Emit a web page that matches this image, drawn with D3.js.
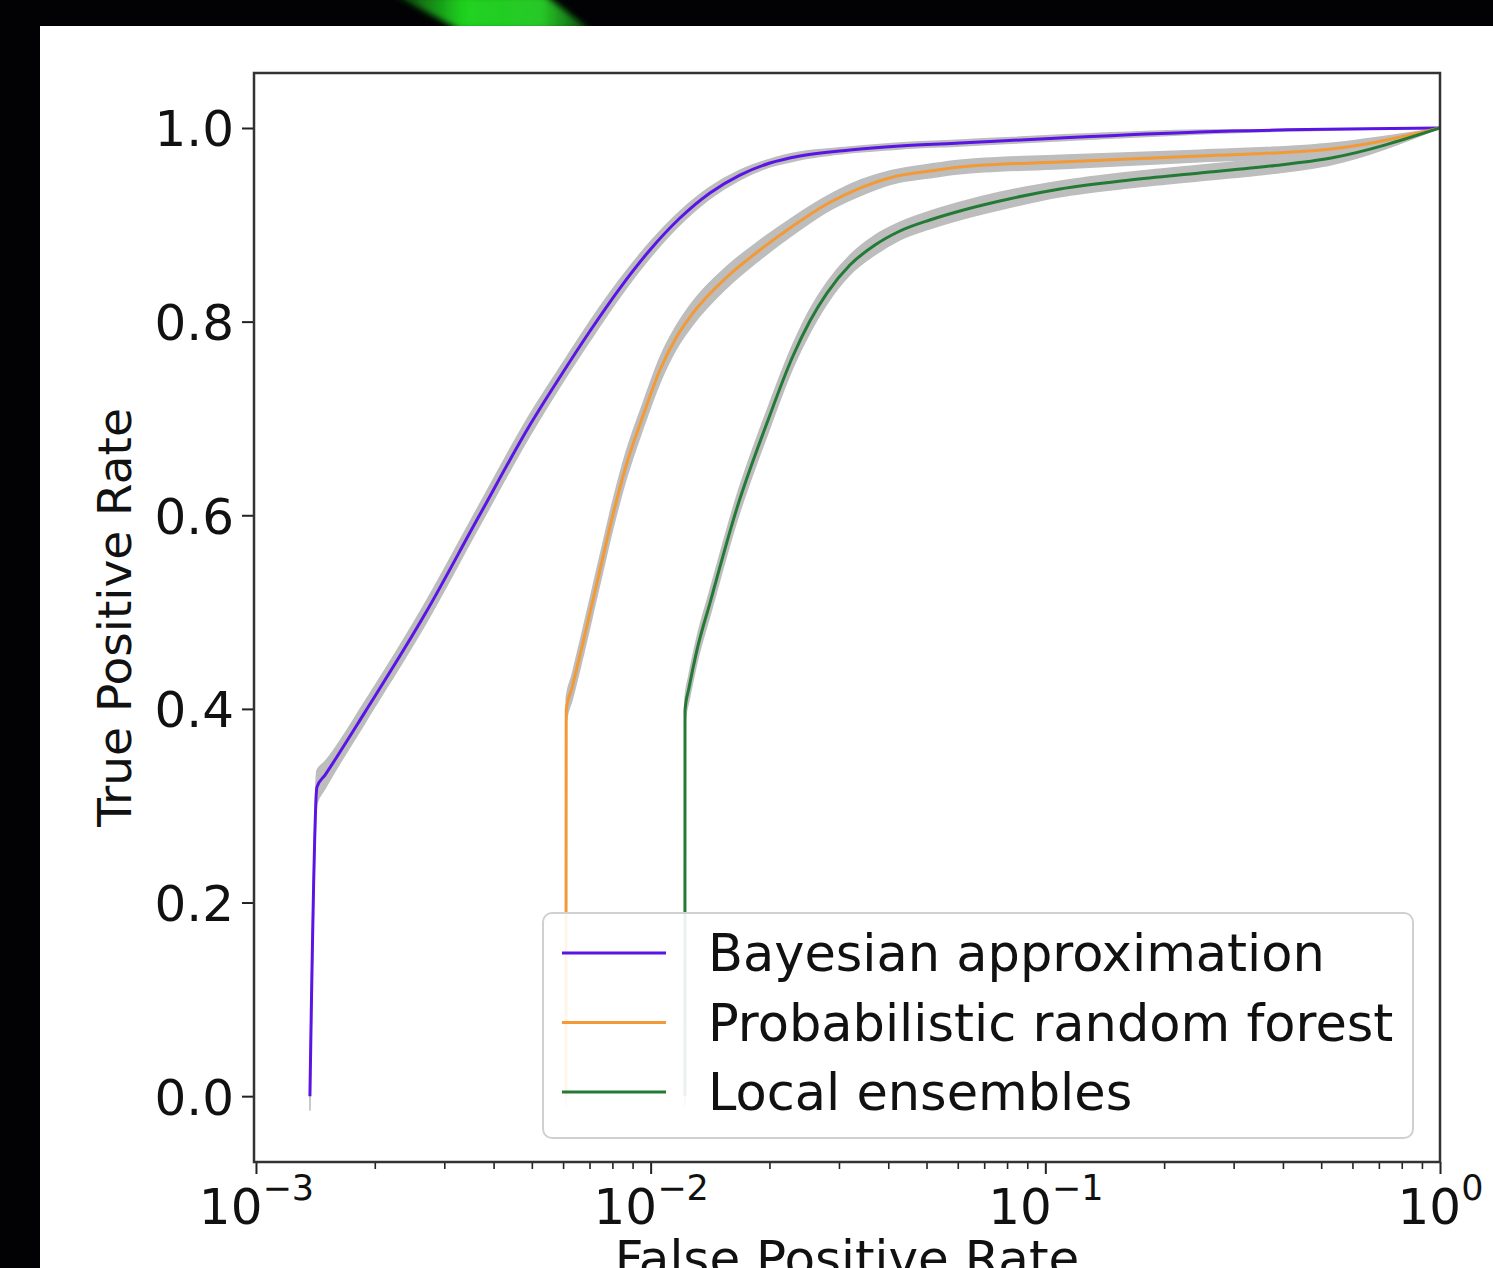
<!DOCTYPE html>
<html><head><meta charset="utf-8">
<script src="https://cdn.jsdelivr.net/npm/d3@7"></script>
<style>html,body{margin:0;padding:0;background:#000;overflow:hidden} svg{display:block}</style>
</head><body>
<svg id="c" width="1493" height="1268"></svg>
<script>
// ---------------- data ----------------
const seriesNames = ["Bayesian approximation", "Probabilistic random forest", "Local ensembles"];
const seriesColors = ["#5a14e6", "#f39a36", "#237a35"];

const bayesFpr = [0.001370, 0.001427, 0.001496, 0.001889, 0.002681, 0.003651, 0.004944, 0.005892, 0.007020, 0.008363, 0.009959, 0.011865, 0.014133, 0.016835, 0.020057, 0.023891, 0.031979, 0.042823, 0.060760, 0.1089, 0.2464, 1.0];
const bayesTpr = [0.0, 0.3192, 0.3316, 0.3967, 0.4979, 0.5971, 0.6932, 0.7428, 0.7903, 0.8347, 0.8740, 0.9070, 0.9329, 0.9514, 0.9638, 0.9711, 0.9773, 0.9814, 0.9845, 0.9897, 0.9959, 1.0];
const bayesStd = [0.015, 0.017, 0.014, 0.011, 0.011, 0.011, 0.011, 0.010, 0.010, 0.009, 0.008, 0.007, 0.006, 0.005, 0.004, 0.004, 0.003, 0.003, 0.003, 0.003, 0.002, 0.0];

const rfFpr = [0.006100, 0.006110, 0.006317, 0.007439, 0.008020, 0.008659, 0.009561, 0.010558, 0.011591, 0.012800, 0.015608, 0.018917, 0.022937, 0.027970, 0.033912, 0.041110, 0.050992, 0.060760, 0.1089, 0.2464, 0.53, 1.0];
const rfTpr = [0.0, 0.3988, 0.4215, 0.5434, 0.6002, 0.6508, 0.7025, 0.7500, 0.7831, 0.8089, 0.8461, 0.8740, 0.8988, 0.9215, 0.9380, 0.9494, 0.9556, 0.9597, 0.9649, 0.9711, 0.9783, 1.0];
const rfStd = [0.010, 0.012, 0.013, 0.014, 0.014, 0.014, 0.013, 0.013, 0.012, 0.012, 0.011, 0.010, 0.009, 0.008, 0.008, 0.007, 0.007, 0.007, 0.007, 0.006, 0.006, 0.0];

const leFpr = [0.012210, 0.012220, 0.012505, 0.013101, 0.014133, 0.016544, 0.019709, 0.022937, 0.025326, 0.027970, 0.031979, 0.037016, 0.042823, 0.050992, 0.060760, 0.076697, 0.1089, 0.16377, 0.2464, 0.37067, 0.53, 1.0];
const leTpr = [0.0, 0.3988, 0.4215, 0.4607, 0.5093, 0.6074, 0.6952, 0.7645, 0.8006, 0.8295, 0.8585, 0.8791, 0.8936, 0.9050, 0.9143, 0.9246, 0.9370, 0.9463, 0.9535, 0.9607, 0.9690, 1.0];
const leStd = [0.010, 0.012, 0.013, 0.013, 0.013, 0.013, 0.013, 0.012, 0.012, 0.011, 0.010, 0.010, 0.009, 0.009, 0.009, 0.009, 0.008, 0.008, 0.008, 0.008, 0.007, 0.0];

const xMajorTicks = [1e-3, 1e-2, 1e-1, 1];
const xTickExponents = ["\u22123", "\u22122", "\u22121", "0"];
const xMinorTicks = [2,3,4,5,6,7,8,9].flatMap(m => [1e-3, 1e-2, 1e-1].map(d => m * d));
const yTicks = [0, 0.2, 0.4, 0.6, 0.8, 1.0];
const yTickLabels = ["0.0", "0.2", "0.4", "0.6", "0.8", "1.0"];
const xTitle = "False Positive Rate";
const yTitle = "True Positive Rate";

// ---------------- layout ----------------
const W = 1493, H = 1268;
const L = 254, R = 1440, T = 73, B = 1162;
const FONT = "'DejaVu Sans', sans-serif";
const FS = 50;

const svg = d3.select("#c");
svg.append("rect").attr("x", 0).attr("y", 0).attr("width", W).attr("height", H).attr("fill", "#020204");
const defs = svg.append("defs");
const gg = defs.append("linearGradient").attr("id", "gstreak").attr("x1", "0").attr("x2", "1").attr("y1", "0").attr("y2", "0");
gg.append("stop").attr("offset", "0").attr("stop-color", "#0a3a0a");
gg.append("stop").attr("offset", "0.35").attr("stop-color", "#1fd21f");
gg.append("stop").attr("offset", "0.75").attr("stop-color", "#28c828");
gg.append("stop").attr("offset", "1").attr("stop-color", "#0c4a0c");
defs.append("filter").attr("id", "blur").append("feGaussianBlur").attr("stdDeviation", 3);
svg.append("path").attr("d", "M395,-5 L545,-5 L590,30 L460,30 Z").attr("fill", "url(#gstreak)").attr("filter", "url(#blur)");
svg.append("rect").attr("x", 40).attr("y", 26).attr("width", W - 40).attr("height", H - 26).attr("fill", "#ffffff");

const x = d3.scaleLog().domain([Math.pow(10, -3.005), 1]).range([L, R]);
const y = d3.scaleLinear().domain([-0.068, 1.0568]).range([B, T]);

defs.append("clipPath").attr("id", "plotclip").append("rect")
  .attr("x", L).attr("y", T).attr("width", R - L).attr("height", B - T);

const series = [
  { name: seriesNames[0], color: seriesColors[0], f: bayesFpr, t: bayesTpr, s: bayesStd },
  { name: seriesNames[1], color: seriesColors[1], f: rfFpr, t: rfTpr, s: rfStd },
  { name: seriesNames[2], color: seriesColors[2], f: leFpr, t: leTpr, s: leStd }
].map(d => ({ ...d, pts: d.f.map((v, i) => ({ f: v, t: d.t[i], s: d.s[i] })) }));

const plot = svg.append("g").attr("clip-path", "url(#plotclip)");
const area = d3.area().x(d => x(d.f)).y0(d => y(d.t - d.s)).y1(d => y(d.t + d.s)).curve(d3.curveMonotoneX);
const line = d3.line().x(d => x(d.f)).y(d => y(d.t)).curve(d3.curveMonotoneX);

series.forEach(sr => {
  plot.append("path").attr("d", area(sr.pts)).attr("fill", "#bdbdbd").attr("stroke", "#bdbdbd").attr("stroke-width", 1.5);
});
series.forEach(sr => {
  plot.append("path").attr("d", line(sr.pts)).attr("fill", "none").attr("stroke", sr.color)
    .attr("stroke-width", 3).attr("stroke-linejoin", "round");
});

// axes
const xMinor = svg.append("g").attr("transform", `translate(0,${B})`)
  .call(d3.axisBottom(x).tickValues(xMinorTicks).tickSize(7).tickFormat(""));
xMinor.select(".domain").remove();
xMinor.selectAll(".tick line").attr("stroke", "#222").attr("stroke-width", 1.6);

const xAxis = svg.append("g").attr("transform", `translate(0,${B})`)
  .call(d3.axisBottom(x).tickValues(xMajorTicks).tickSize(12).tickPadding(14).tickFormat(() => ""));
xAxis.select(".domain").remove();
xAxis.selectAll(".tick line").attr("stroke", "#222").attr("stroke-width", 2);
xAxis.selectAll(".tick text").each(function(d, i) {
  const t = d3.select(this).attr("font-family", FONT).attr("font-size", FS).attr("fill", "#111");
  t.append("tspan").text("10");
  t.append("tspan").attr("font-size", FS * 0.7).attr("dy", -24).text(xTickExponents[i]);
});

const yAxis = svg.append("g").attr("transform", `translate(${L},0)`)
  .call(d3.axisLeft(y).tickValues(yTicks).tickSize(12).tickPadding(8).tickFormat((d, i) => yTickLabels[i]));
yAxis.select(".domain").remove();
yAxis.selectAll(".tick line").attr("stroke", "#222").attr("stroke-width", 2);
yAxis.selectAll(".tick text").attr("font-family", FONT).attr("font-size", FS).attr("fill", "#111").attr("dy", "0.36em");

// frame
svg.append("rect").attr("x", L).attr("y", T).attr("width", R - L).attr("height", B - T)
  .attr("fill", "none").attr("stroke", "#333").attr("stroke-width", 2.5);

// titles
svg.append("text").attr("x", (L + R) / 2).attr("y", 1276).attr("text-anchor", "middle")
  .attr("font-family", FONT).attr("font-size", FS).attr("fill", "#111").text(xTitle);
svg.append("text").attr("transform", `translate(131,${(T + B) / 2}) rotate(-90)`).attr("text-anchor", "middle")
  .attr("font-family", FONT).attr("font-size", 47).attr("fill", "#111").text(yTitle);

// legend
const lg = svg.append("g");
lg.append("rect").attr("x", 543).attr("y", 913).attr("width", 870).attr("height", 225).attr("rx", 9)
  .attr("fill", "#fff").attr("fill-opacity", 0.9).attr("stroke", "#d0d0d0").attr("stroke-width", 2);
series.forEach((sr, i) => {
  const cy = 953 + i * 69.5;
  lg.append("line").attr("x1", 562).attr("x2", 666).attr("y1", cy).attr("y2", cy)
    .attr("stroke", sr.color).attr("stroke-width", 3);
  lg.append("text").attr("x", 708).attr("y", cy + 18).attr("font-family", FONT).attr("font-size", 51)
    .attr("fill", "#111").text(sr.name);
});
</script>
</body></html>
